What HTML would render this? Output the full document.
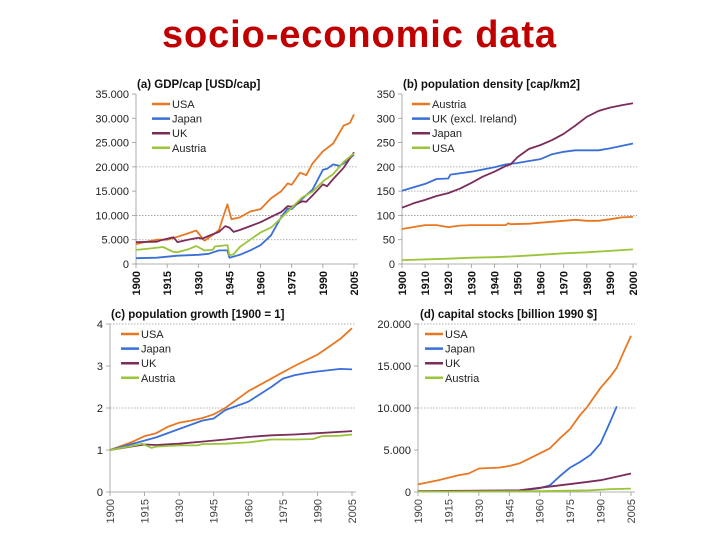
<!DOCTYPE html>
<html><head><meta charset="utf-8"><style>
body{margin:0;background:#fff;width:720px;height:540px;overflow:hidden}
svg{display:block}
text{font-family:"Liberation Sans",Arial,sans-serif}
</style></head><body>
<svg id="s" width="720" height="540" viewBox="0 0 720 540">
<text x="359" y="47" text-anchor="middle" font-size="38" font-weight="bold" fill="#c00000" textLength="394">socio-economic data</text>
</svg>
<script>
// ---- Panel (a) GDP/cap
const aUsaYears=[1900,1905,1910,1915,1920,1925,1929,1933,1937,1940,1942,1944,1946,1950,1955,1960,1965,1970,1973,1975,1979,1982,1985,1990,1995,2000,2003,2005];
const aUsaVals=[4100,4600,5000,5000,5600,6300,6900,4800,6000,7000,9700,12300,9200,9600,10800,11300,13500,15000,16600,16300,18800,18300,20700,23200,24800,28500,29000,30800];
const aJapYears=[1900,1910,1920,1930,1935,1940,1944,1945,1950,1955,1960,1965,1970,1973,1975,1980,1985,1990,1992,1995,1998,2000,2005];
const aJapVals=[1200,1300,1700,1900,2100,2800,2800,1300,1900,2800,3900,5900,9700,11400,11300,13400,15300,19400,19600,20500,20200,20700,22500];
const aUkYears=[1900,1910,1913,1918,1920,1925,1930,1932,1935,1940,1943,1945,1947,1950,1955,1960,1965,1970,1973,1975,1980,1982,1985,1990,1992,1995,2000,2005];
const aUkVals=[4500,4600,5000,5500,4500,5000,5400,5200,5800,6600,7800,7500,6600,7000,7800,8600,9700,10700,11900,11800,12900,12800,14100,16400,16000,17500,19800,23000];
const aAutYears=[1900,1905,1913,1918,1920,1925,1929,1933,1937,1938,1944,1945,1947,1950,1955,1960,1965,1970,1975,1980,1985,1990,1995,2000,2005];
const aAutVals=[2900,3100,3500,2500,2400,3000,3700,2800,2900,3600,3900,1800,2000,3500,5000,6500,7500,9500,11600,13700,14900,17000,18500,21000,22800];
const aYTicks=[0,5000,10000,15000,20000,25000,30000,35000];
const aYTickLabels=["0","5.000","10.000","15.000","20.000","25.000","30.000","35.000"];
const aXTicks=[1900,1915,1930,1945,1960,1975,1990,2005];
// ---- Panel (b) population density
const bAutYears=[1900,1910,1915,1920,1925,1930,1945,1946,1947,1955,1960,1970,1975,1980,1985,1990,1995,2000];
const bAutVals=[72,80,80,76,79,80,80,84,82,83,85,89,91,89,89,92,96,97];
const bUkYears=[1900,1910,1915,1920,1921,1930,1940,1945,1950,1955,1960,1965,1970,1975,1985,1990,2000];
const bUkVals=[151,165,175,176,184,190,199,205,208,212,216,226,231,234,234,238,248];
const bJapYears=[1900,1905,1910,1915,1920,1925,1930,1935,1940,1945,1947,1950,1955,1960,1965,1970,1975,1980,1985,1990,1995,2000];
const bJapVals=[116,125,132,140,146,155,167,180,190,202,205,220,237,245,255,268,285,303,315,322,327,331];
const bUsaYears=[1900,1920,1930,1940,1950,1960,1970,1980,1990,2000];
const bUsaVals=[8,11,13,14,16,19,22,24,27,30];
const bYTicks=[0,50,100,150,200,250,300,350];
const bXTicks=[1900,1910,1920,1930,1940,1950,1960,1970,1980,1990,2000];
// ---- Panel (c) population growth
const cUsaYears=[1900,1910,1915,1920,1925,1930,1935,1940,1945,1950,1960,1970,1980,1990,2000,2005];
const cUsaVals=[1,1.2,1.33,1.4,1.55,1.65,1.7,1.76,1.85,2.0,2.4,2.7,3.0,3.27,3.65,3.9];
const cJapYears=[1900,1910,1920,1930,1940,1945,1950,1960,1970,1975,1980,1985,1990,2000,2005];
const cJapVals=[1,1.15,1.3,1.5,1.7,1.75,1.95,2.15,2.5,2.7,2.78,2.83,2.87,2.93,2.92];
const cUkYears=[1900,1910,1915,1920,1930,1940,1950,1960,1970,1980,1990,2005];
const cUkVals=[1,1.09,1.13,1.12,1.15,1.2,1.25,1.31,1.35,1.37,1.4,1.45];
const cAutYears=[1900,1910,1914,1918,1920,1930,1938,1940,1950,1960,1970,1980,1988,1992,2000,2005];
const cAutVals=[1,1.1,1.15,1.05,1.08,1.11,1.11,1.14,1.15,1.18,1.25,1.25,1.26,1.33,1.34,1.37];
const cYTicks=[0,1,2,3,4];
// ---- Panel (d) capital stocks
const dUsaYears=[1900,1910,1920,1925,1930,1940,1945,1950,1955,1960,1965,1970,1975,1980,1983,1990,1995,1998,2002,2005];
const dUsaVals=[900,1400,2000,2200,2800,2900,3100,3400,4000,4600,5200,6400,7500,9200,10000,12400,13800,14800,17000,18600];
const dJapYears=[1950,1955,1960,1965,1970,1975,1980,1985,1990,1995,1998];
const dJapVals=[200,300,450,800,1900,2900,3600,4400,5800,8500,10200];
const dUkYears=[1900,1950,1960,1970,1980,1990,2005];
const dUkVals=[100,200,500,800,1100,1400,2200];
const dAutYears=[1900,1960,1985,1995,2005];
const dAutVals=[50,100,200,350,400];
const dYTicks=[0,5000,10000,15000,20000];
const dYTickLabels=["0","5.000","10.000","15.000","20.000"];

const C={usa:"#e87722",jap:"#3a6fd8",uk:"#7b2d5a",aut:"#9cc43a"};
const svg=document.getElementById('s');
const NS="http://www.w3.org/2000/svg";
function mk(tag,attrs,parent){const e=document.createElementNS(NS,tag);for(const k in attrs)e.setAttribute(k,attrs[k]);(parent||svg).appendChild(e);return e;}

function panel(p){
  const g=mk('g',{});
  
  
  const sx=v=>p.x0+(v-p.xmin)/(p.xmax-p.xmin)*(p.x1-p.x0);
  const sy=v=>p.y0-(v-p.ymin)/(p.ymax-p.ymin)*(p.y0-p.y1);
  p.yTicks.forEach((t,i)=>{
    if(p.grid.includes(t)){
      const l=mk('line',{x1:p.x0,x2:p.x1+4,y1:sy(t),y2:sy(t),stroke:'#999','stroke-width':0.8,'stroke-dasharray':'1.5,1.5'},g);
      
      
    }
    const tk=mk('line',{x1:p.x0-4,x2:p.x0,y1:sy(t),y2:sy(t),stroke:'#999','stroke-width':0.8},g);
    
    
    const tx=mk('text',{x:p.x0-7,y:sy(t)+4,'text-anchor':'end','font-size':11,fill:'#222'},g);
    tx.textContent=p.yLabels?p.yLabels[i]:String(t);
    
    
  });
  const ax=mk('line',{x1:p.x0,x2:p.x0,y1:p.y1,y2:p.y0,stroke:'#999','stroke-width':0.8},g);
  
  
  const bx=mk('line',{x1:p.x0,x2:p.x1+4,y1:p.y0,y2:p.y0,stroke:'#999','stroke-width':0.8},g);
  
  
  p.xTicks.forEach(t=>{
    const tk=mk('line',{x1:sx(t),x2:sx(t),y1:p.y0,y2:p.y0+4,stroke:'#999','stroke-width':0.8},g);
    
    
    const X=sx(t)+4,Y=p.y0+7;
    const tx=mk('text',{x:X,y:Y,'text-anchor':'end','font-size':11,'font-weight':p.boldX?'bold':'normal',fill:p.boldX?'#111':'#444',transform:`rotate(-90 ${X} ${Y})`},g);
    tx.textContent=String(t);
    
    
  });
  p.series.forEach(s=>{
    const pts=s.years.map((y,i)=>sx(y).toFixed(1)+','+sy(s.vals[i]).toFixed(1)).join(' ');
    const pl=mk('polyline',{points:pts,fill:'none',stroke:s.color,'stroke-width':1.8,'stroke-linejoin':'round'},g);
    
    
  });
  const tt=mk('text',{x:p.tx,y:p.ty,'font-size':11.5,'font-weight':'bold',fill:'#111'},g);
  tt.textContent=p.title;
  
  
  p.series.forEach((s,i)=>{
    const yy=p.ly+i*14.6;
    const le=mk('g',{},g);
    
    
    mk('line',{x1:p.lx,x2:p.lx+18,y1:yy,y2:yy,stroke:s.color,'stroke-width':2.5},le);
    const t=mk('text',{x:p.lx+20,y:yy+4,'font-size':11,fill:'#222'},le);
    t.textContent=s.label;
  });
}

panel({name:'panel-gdp',x0:136,x1:354,y0:264,y1:94,xmin:1900,xmax:2005,ymin:0,ymax:35000,
  yTicks:aYTicks,yLabels:aYTickLabels,grid:[5000,10000,20000],xTicks:aXTicks,boldX:true,
  title:'(a) GDP/cap [USD/cap]',tx:137,ty:88,lx:152,ly:104,
  series:[{key:'usa',label:'USA',color:C.usa,years:aUsaYears,vals:aUsaVals},
    {key:'japan',label:'Japan',color:C.jap,years:aJapYears,vals:aJapVals},
    {key:'uk',label:'UK',color:C.uk,years:aUkYears,vals:aUkVals},
    {key:'austria',label:'Austria',color:C.aut,years:aAutYears,vals:aAutVals}]});
panel({name:'panel-density',x0:402,x1:633,y0:264,y1:94,xmin:1900,xmax:2000,ymin:0,ymax:350,
  yTicks:bYTicks,grid:[100,150,200],xTicks:bXTicks,boldX:true,
  title:'(b) population density [cap/km2]',tx:403,ty:88,lx:412,ly:104,
  series:[{key:'austria',label:'Austria',color:C.usa,years:bAutYears,vals:bAutVals},
    {key:'uk',label:'UK (excl. Ireland)',color:C.jap,years:bUkYears,vals:bUkVals},
    {key:'japan',label:'Japan',color:C.uk,years:bJapYears,vals:bJapVals},
    {key:'usa',label:'USA',color:C.aut,years:bUsaYears,vals:bUsaVals}]});
panel({name:'panel-pop-growth',x0:110,x1:352,y0:492,y1:324,xmin:1900,xmax:2005,ymin:0,ymax:4,
  yTicks:cYTicks,grid:[2,4],xTicks:aXTicks,boldX:false,
  title:'(c) population growth [1900 = 1]',tx:111,ty:318,lx:121,ly:334,
  series:[{key:'usa',label:'USA',color:C.usa,years:cUsaYears,vals:cUsaVals},
    {key:'japan',label:'Japan',color:C.jap,years:cJapYears,vals:cJapVals},
    {key:'uk',label:'UK',color:C.uk,years:cUkYears,vals:cUkVals},
    {key:'austria',label:'Austria',color:C.aut,years:cAutYears,vals:cAutVals}]});
panel({name:'panel-capital',x0:418,x1:631,y0:492,y1:324,xmin:1900,xmax:2005,ymin:0,ymax:20000,
  yTicks:dYTicks,yLabels:dYTickLabels,grid:[10000,20000],xTicks:aXTicks,boldX:false,
  title:'(d) capital stocks [billion 1990 $]',tx:420,ty:318,lx:425,ly:334,
  series:[{key:'usa',label:'USA',color:C.usa,years:dUsaYears,vals:dUsaVals},
    {key:'japan',label:'Japan',color:C.jap,years:dJapYears,vals:dJapVals},
    {key:'uk',label:'UK',color:C.uk,years:dUkYears,vals:dUkVals},
    {key:'austria',label:'Austria',color:C.aut,years:dAutYears,vals:dAutVals}]});
</script>
</body></html>
